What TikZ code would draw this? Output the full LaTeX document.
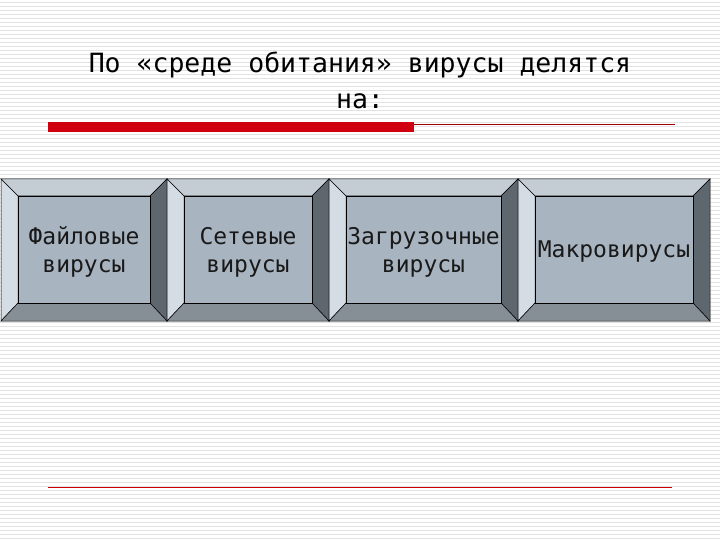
\documentclass[tikz,border=0pt]{standalone}
\usepackage{fontspec}
\setmonofont{DejaVu Sans Mono}
\begin{document}
\begin{tikzpicture}[x=1bp,y=-1bp,
  ttl/.style={font=\ttfamily\fontsize{26.5bp}{36bp}\selectfont,align=center},
  lbl/.style={font=\ttfamily\fontsize{23bp}{28bp}\selectfont,align=center,text=black!90}]
\definecolor{bgl}{HTML}{E2E2E2}
\definecolor{topb}{HTML}{C4CCD4}
\definecolor{leftb}{HTML}{D4DCE4}
\definecolor{rightb}{HTML}{5E666E}
\definecolor{botb}{HTML}{868E96}
\definecolor{face}{HTML}{A8B4C0}
\definecolor{redb}{HTML}{D00010}
\useasboundingbox (0,0) rectangle (720,540);
\fill[white] (0,0) rectangle (720,540);
\foreach \y in {2,6,...,538} \draw[bgl,line width=0.8bp] (0,\y) -- (720,\y);
\node[ttl] (title) at (360,80) {По «среде обитания» вирусы делятся\\на:};
\fill[redb] (48,122) rectangle (414,132);
\draw[red!60!black,line width=0.8bp] (414,124) -- (675,124);
\draw[red!80!black,line width=0.8bp] (48,487) -- (672,487);
\foreach \a/\b/\n in {1/167/b1,167/329/b2,329/518/b3,518/710/b4}{
  \pgfmathsetmacro{\ai}{\a+17}\pgfmathsetmacro{\bi}{\b-17}
  \fill[topb,draw=black,line width=0.5bp] (\a,179) -- (\b,179) -- (\bi,196) -- (\ai,196) -- cycle;
  \fill[leftb,draw=black,line width=0.5bp] (\a,179) -- (\ai,196) -- (\ai,303) -- (\a,321) -- cycle;
  \fill[rightb,draw=black,line width=0.5bp] (\b,179) -- (\bi,196) -- (\bi,303) -- (\b,321) -- cycle;
  \fill[botb,draw=black,line width=0.5bp] (\a,321) -- (\ai,303) -- (\bi,303) -- (\b,321) -- cycle;
  \fill[face,draw=black,line width=0.6bp] (\ai,196) rectangle (\bi,303);
  \coordinate (\n) at ({(\a+\b)/2},252);
}
\node[lbl] (t1) at (b1) {Файловые\\вирусы};
\node[lbl] (t2) at (b2) {Сетевые\\вирусы};
\node[lbl] (t3) at (b3) {Загрузочные\\вирусы};
\node[lbl] (t4) at (b4) {Макровирусы};
\end{tikzpicture}
\end{document}
